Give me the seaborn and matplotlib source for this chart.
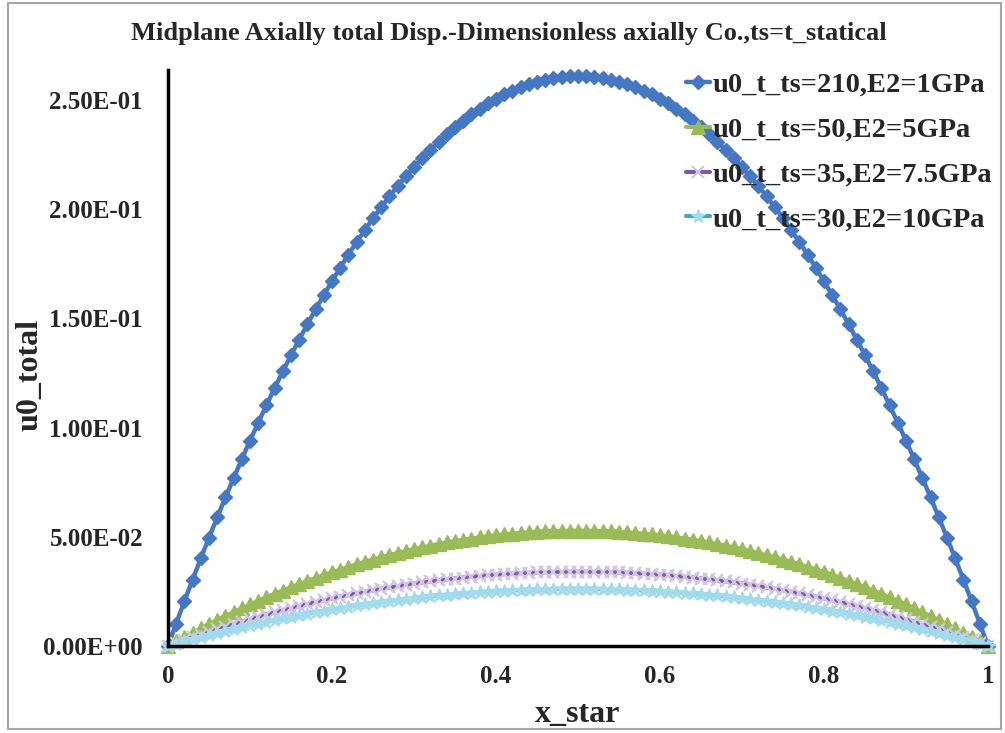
import matplotlib
matplotlib.use("Agg")
import matplotlib.pyplot as plt
import seaborn as sns
import pandas as pd
from matplotlib.patches import Rectangle

sns.set_theme(style="white")
plt.rcParams['font.family'] = ['Liberation Serif', 'DejaVu Serif']
plt.rcParams['font.weight'] = 'bold'

x_star = [0.00, 0.01, 0.02, 0.03, 0.04, 0.05, 0.06, 0.07, 0.08, 0.09,
          0.10, 0.11, 0.12, 0.13, 0.14, 0.15, 0.16, 0.17, 0.18, 0.19,
          0.20, 0.21, 0.22, 0.23, 0.24, 0.25, 0.26, 0.27, 0.28, 0.29,
          0.30, 0.31, 0.32, 0.33, 0.34, 0.35, 0.36, 0.37, 0.38, 0.39,
          0.40, 0.41, 0.42, 0.43, 0.44, 0.45, 0.46, 0.47, 0.48, 0.49,
          0.50, 0.51, 0.52, 0.53, 0.54, 0.55, 0.56, 0.57, 0.58, 0.59,
          0.60, 0.61, 0.62, 0.63, 0.64, 0.65, 0.66, 0.67, 0.68, 0.69,
          0.70, 0.71, 0.72, 0.73, 0.74, 0.75, 0.76, 0.77, 0.78, 0.79,
          0.80, 0.81, 0.82, 0.83, 0.84, 0.85, 0.86, 0.87, 0.88, 0.89,
          0.90, 0.91, 0.92, 0.93, 0.94, 0.95, 0.96, 0.97, 0.98, 0.99, 1.00]

u_ts210 = [0.0000, 0.0103, 0.0205, 0.0304, 0.0401, 0.0496, 0.0589, 0.0680, 0.0768, 0.0855,
           0.0940, 0.1022, 0.1102, 0.1181, 0.1257, 0.1331, 0.1403, 0.1473, 0.1541, 0.1607,
           0.1670, 0.1732, 0.1792, 0.1849, 0.1904, 0.1958, 0.2009, 0.2058, 0.2105, 0.2150,
           0.2192, 0.2233, 0.2272, 0.2308, 0.2343, 0.2375, 0.2405, 0.2434, 0.2460, 0.2484,
           0.2506, 0.2525, 0.2543, 0.2559, 0.2572, 0.2584, 0.2593, 0.2601, 0.2606, 0.2609,
           0.2610, 0.2609, 0.2606, 0.2601, 0.2593, 0.2584, 0.2572, 0.2559, 0.2543, 0.2525,
           0.2506, 0.2484, 0.2460, 0.2434, 0.2405, 0.2375, 0.2343, 0.2308, 0.2272, 0.2233,
           0.2192, 0.2150, 0.2105, 0.2058, 0.2009, 0.1958, 0.1904, 0.1849, 0.1792, 0.1732,
           0.1670, 0.1607, 0.1541, 0.1473, 0.1403, 0.1331, 0.1257, 0.1181, 0.1102, 0.1022,
           0.0940, 0.0855, 0.0768, 0.0680, 0.0589, 0.0496, 0.0401, 0.0304, 0.0205, 0.0103, 0.0000]

u_ts50 = [0.0000, 0.0021, 0.0041, 0.0061, 0.0081, 0.0100, 0.0119, 0.0137, 0.0155, 0.0173,
          0.0190, 0.0207, 0.0223, 0.0239, 0.0254, 0.0269, 0.0284, 0.0298, 0.0312, 0.0325,
          0.0338, 0.0350, 0.0362, 0.0374, 0.0385, 0.0396, 0.0406, 0.0416, 0.0426, 0.0435,
          0.0444, 0.0452, 0.0460, 0.0467, 0.0474, 0.0480, 0.0487, 0.0492, 0.0498, 0.0502,
          0.0507, 0.0511, 0.0514, 0.0518, 0.0520, 0.0523, 0.0525, 0.0526, 0.0527, 0.0528,
          0.0528, 0.0528, 0.0527, 0.0526, 0.0525, 0.0523, 0.0520, 0.0518, 0.0514, 0.0511,
          0.0507, 0.0502, 0.0498, 0.0492, 0.0487, 0.0480, 0.0474, 0.0467, 0.0460, 0.0452,
          0.0444, 0.0435, 0.0426, 0.0416, 0.0406, 0.0396, 0.0385, 0.0374, 0.0362, 0.0350,
          0.0338, 0.0325, 0.0312, 0.0298, 0.0284, 0.0269, 0.0254, 0.0239, 0.0223, 0.0207,
          0.0190, 0.0173, 0.0155, 0.0137, 0.0119, 0.0100, 0.0081, 0.0061, 0.0041, 0.0021, 0.0000]

u_ts35 = [0.0000, 0.0013, 0.0027, 0.0040, 0.0052, 0.0065, 0.0077, 0.0089, 0.0100, 0.0111,
          0.0122, 0.0133, 0.0144, 0.0154, 0.0164, 0.0173, 0.0183, 0.0192, 0.0201, 0.0209,
          0.0218, 0.0226, 0.0233, 0.0241, 0.0248, 0.0255, 0.0262, 0.0268, 0.0274, 0.0280,
          0.0286, 0.0291, 0.0296, 0.0301, 0.0305, 0.0309, 0.0313, 0.0317, 0.0320, 0.0324,
          0.0326, 0.0329, 0.0331, 0.0333, 0.0335, 0.0337, 0.0338, 0.0339, 0.0339, 0.0340,
          0.0340, 0.0340, 0.0339, 0.0339, 0.0338, 0.0337, 0.0335, 0.0333, 0.0331, 0.0329,
          0.0326, 0.0324, 0.0320, 0.0317, 0.0313, 0.0309, 0.0305, 0.0301, 0.0296, 0.0291,
          0.0286, 0.0280, 0.0274, 0.0268, 0.0262, 0.0255, 0.0248, 0.0241, 0.0233, 0.0226,
          0.0218, 0.0209, 0.0201, 0.0192, 0.0183, 0.0173, 0.0164, 0.0154, 0.0144, 0.0133,
          0.0122, 0.0111, 0.0100, 0.0089, 0.0077, 0.0065, 0.0052, 0.0040, 0.0027, 0.0013, 0.0000]

u_ts30 = [0.0000, 0.0010, 0.0021, 0.0030, 0.0040, 0.0050, 0.0059, 0.0068, 0.0077, 0.0086,
          0.0094, 0.0103, 0.0111, 0.0119, 0.0126, 0.0134, 0.0141, 0.0148, 0.0155, 0.0161,
          0.0168, 0.0174, 0.0180, 0.0186, 0.0191, 0.0197, 0.0202, 0.0207, 0.0211, 0.0216,
          0.0220, 0.0224, 0.0228, 0.0232, 0.0235, 0.0238, 0.0241, 0.0244, 0.0247, 0.0249,
          0.0252, 0.0254, 0.0255, 0.0257, 0.0258, 0.0259, 0.0260, 0.0261, 0.0262, 0.0262,
          0.0262, 0.0262, 0.0262, 0.0261, 0.0260, 0.0259, 0.0258, 0.0257, 0.0255, 0.0254,
          0.0252, 0.0249, 0.0247, 0.0244, 0.0241, 0.0238, 0.0235, 0.0232, 0.0228, 0.0224,
          0.0220, 0.0216, 0.0211, 0.0207, 0.0202, 0.0197, 0.0191, 0.0186, 0.0180, 0.0174,
          0.0168, 0.0161, 0.0155, 0.0148, 0.0141, 0.0134, 0.0126, 0.0119, 0.0111, 0.0103,
          0.0094, 0.0086, 0.0077, 0.0068, 0.0059, 0.0050, 0.0040, 0.0030, 0.0021, 0.0010, 0.0000]

series_labels = ["u0_t_ts=210,E2=1GPa", "u0_t_ts=50,E2=5GPa",
                 "u0_t_ts=35,E2=7.5GPa", "u0_t_ts=30,E2=10GPa"]
y_ticks = [0.0, 0.05, 0.10, 0.15, 0.20, 0.25]
y_tick_labels = ["0.00E+00", "5.00E-02", "1.00E-01", "1.50E-01", "2.00E-01", "2.50E-01"]
x_ticks = [0, 0.2, 0.4, 0.6, 0.8, 1]
x_tick_labels = ["0", "0.2", "0.4", "0.6", "0.8", "1"]

styles = [
    dict(color="#4577C2", marker="D", markersize=7, mfc="#4577C2", mec="#4577C2", mew=1.0, lw=3.2),
    dict(color="#9BBB59", marker="^", markersize=9.5, mfc="#9BBB59", mec="#9BBB59", mew=1.0, lw=3.0),
    dict(color="#7A5CA3", marker="x", markersize=9, mfc="#D2C4E4", mec="#D2C4E4", mew=1.6, lw=3.0),
    dict(color="#43A6C2", marker="*", markersize=10.5, mfc="#A3DBEC", mec="#A3DBEC", mew=0.8, lw=3.0),
]

fig = plt.figure(figsize=(10.05, 7.33), dpi=100)
ax = fig.add_axes([168/1005, 1-646/733, (988-168)/1005, (646-70)/733])

for vals, lab, st in zip([u_ts210, u_ts50, u_ts35, u_ts30], series_labels, styles):
    df = pd.DataFrame({"x_star": x_star, "u0_total": vals})
    sns.lineplot(data=df, x="x_star", y="u0_total", ax=ax, estimator=None, sort=False,
                 color=st["color"], marker=st["marker"], markersize=st["markersize"],
                 markerfacecolor=st["mfc"], markeredgecolor=st["mec"],
                 markeredgewidth=st["mew"], linewidth=st["lw"], label=lab)

ax.set_xlim(0, 1)
ax.set_ylim(0, 0.2637)
ax.set_xticks(x_ticks)
ax.set_xticklabels(x_tick_labels)
ax.set_yticks(y_ticks)
ax.set_yticklabels(y_tick_labels)
ax.tick_params(axis="both", direction="in", length=6, width=2, color="black",
               labelsize=18)
ax.tick_params(axis="y", pad=18)
ax.tick_params(axis="x", pad=14)
for lab in ax.get_xticklabels() + ax.get_yticklabels():
    lab.set_fontweight("bold")
for s in ["top", "right"]:
    ax.spines[s].set_visible(False)
for s in ["left", "bottom"]:
    ax.spines[s].set_color("black")
    ax.spines[s].set_linewidth(2.5)
ax.grid(False)
ax.set_facecolor("white")
for line in ax.lines:
    line.set_clip_on(False)

ax.set_xlabel("x_star", fontsize=23, fontweight="bold", labelpad=8)
ax.set_ylabel("u0_total", fontsize=23, fontweight="bold")
ax.yaxis.set_label_coords(-124/820, 0.47)
fig.suptitle("Midplane Axially total Disp.-Dimensionless axially Co.,ts=t_statical",
             fontsize=19, fontweight="bold", x=0.506, y=0.970)

leg = ax.legend(loc="upper right", bbox_to_anchor=(1.026, 1.026), frameon=False,
                prop={"family": "Liberation Serif", "weight": "bold", "size": 20.5},
                handlelength=0.85, handletextpad=0.1, labelspacing=0.66, borderaxespad=0.2)

fig.patches.append(Rectangle((8/1005, 4/733), 993/1005, 726/733, transform=fig.transFigure,
                             fill=False, edgecolor="#A6A6A6", linewidth=1.5))

fig.savefig("out.png", dpi=100, facecolor="white")
